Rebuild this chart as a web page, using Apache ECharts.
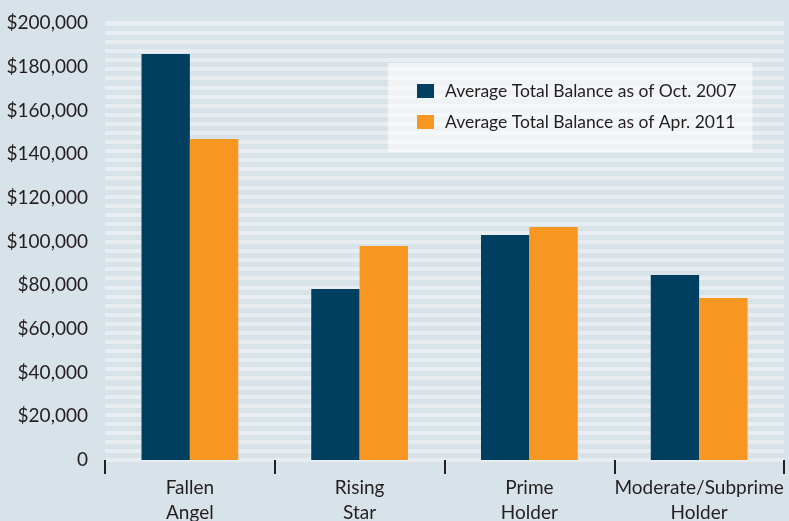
<!DOCTYPE html>
<html>
<head>
<meta charset="utf-8">
<script src="https://cdn.jsdelivr.net/npm/echarts@6/dist/echarts.min.js"></script>
<style>
html,body{margin:0;padding:0;background:#d8e2e9;}
#chart{width:789px;height:521px;}
</style>
</head>
<body>
<div id="chart"></div>
<script>
const categories = ["Fallen\nAngel", "Rising\nStar", "Prime\nHolder", "Moderate/Subprime\nHolder"];
const seriesNames = ["Average Total Balance as of Oct. 2007", "Average Total Balance as of Apr. 2011"];
const balanceOct2007 = [185800, 78300, 103000, 84700];
const balanceApr2011 = [146900, 97900, 106600, 74100];
const yTicks = { min: 0, max: 200000, interval: 20000 };

const FONT = 'Lato, "Open Sans", sans-serif';
const TEXT = '#231f20';

const chart = echarts.init(document.getElementById('chart'), null, { renderer: 'canvas' });
chart.setOption({
  backgroundColor: '#d8e2e9',
  animation: false,
  textStyle: { fontFamily: FONT },
  grid: { left: 105, right: 5, top: 23, bottom: 61, containLabel: false, outerBoundsMode: 'none' },
  legend: {
    left: 388, top: 63,
    orient: 'vertical',
    icon: 'rect',
    itemWidth: 17, itemHeight: 14,
    itemGap: 13,
    padding: [19, 16, 21, 29],
    backgroundColor: 'rgba(255,255,255,0.6)',
    textStyle: { fontFamily: FONT, fontSize: 17.5, color: TEXT, lineHeight: 18, padding: [0, 0, 0, 6] },
    data: seriesNames
  },
  xAxis: {
    type: 'category',
    data: categories,
    axisLine: { show: false },
    axisTick: { show: true, length: 14, lineStyle: { color: '#222', width: 2 } },
    axisLabel: { fontFamily: FONT, fontSize: 19, color: TEXT, lineHeight: 25, margin: 15, interval: 0 },
    splitLine: { show: false }
  },
  yAxis: [
    {
      type: 'value',
      min: yTicks.min, max: yTicks.max, interval: yTicks.interval,
      axisLine: { show: false }, axisTick: { show: false },
      splitLine: { show: false },
      axisLabel: {
        fontFamily: FONT, fontSize: 19, color: TEXT, margin: 17,
        formatter: v => v === 0 ? '0' : '$' + v.toLocaleString('en-US')
      }
    },
    {
      type: 'value',
      min: 0, max: 48.07, interval: 1,
      position: 'right',
      axisLine: { show: false }, axisTick: { show: false },
      axisLabel: { show: false },
      splitLine: { show: true, lineStyle: { color: '#e7edf1', width: 4 } }
    }
  ],
  series: [
    {
      name: seriesNames[0], type: 'bar', data: balanceOct2007,
      itemStyle: { color: '#003f60' },
      barGap: '0%', barCategoryGap: '43%'
    },
    {
      name: seriesNames[1], type: 'bar', data: balanceApr2011,
      itemStyle: { color: '#f79620' },
      barGap: '0%', barCategoryGap: '43%'
    }
  ]
});
</script>
</body>
</html>
